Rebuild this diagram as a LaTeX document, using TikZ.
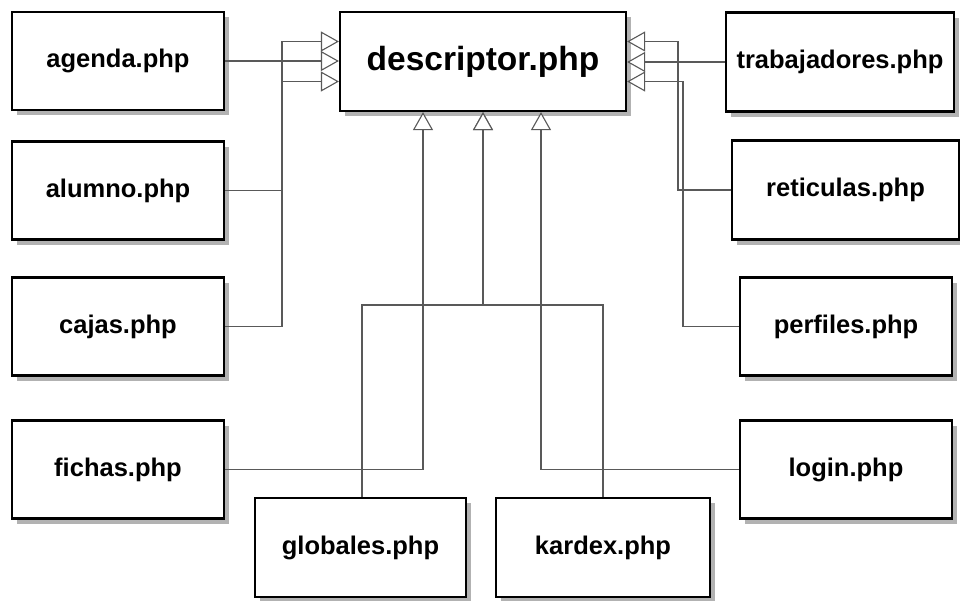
\documentclass[tikz,border=0pt]{standalone}
\usepackage{fontspec}
\setmainfont{Liberation Sans}
\usetikzlibrary{arrows.meta,shadows}
\begin{document}
\begin{tikzpicture}[x=1pt,y=-1pt,
  filebox/.style={draw=black,line width=2.2pt,fill=white,inner sep=0pt,
    minimum height=98pt,
    drop shadow={shadow xshift=5pt,shadow yshift=-5pt,fill=black!30,opacity=1},
    font=\fontsize{25.5}{30}\selectfont\bfseries},
  bigbox/.style={filebox,font=\fontsize{33.5}{38}\selectfont\bfseries},
  inherit/.style={draw=black!65,line width=1.1pt,
    -{Triangle[length=18pt,width=20pt,fill=white]}}
]
\useasboundingbox (0,0) rectangle (960,600);
\node[bigbox,minimum width=286pt,minimum height=99pt] (descriptor) at (483,61.5) {descriptor.php};
\node[filebox,minimum width=212pt] (agenda) at (118,61) {agenda.php};
\node[filebox,minimum width=212pt] (alumno) at (118,190.5) {alumno.php};
\node[filebox,minimum width=212pt] (cajas) at (118,326.5) {cajas.php};
\node[filebox,minimum width=212pt] (fichas) at (118,469.5) {fichas.php};
\node[filebox,minimum width=228pt,minimum height=99pt] (trabajadores) at (840,62) {trabajadores.php};
\node[filebox,minimum width=227pt,minimum height=99pt] (reticulas) at (845.5,190) {reticulas.php};
\node[filebox,minimum width=212pt] (perfiles) at (846,326.5) {perfiles.php};
\node[filebox,minimum width=212pt] (login) at (846,469.5) {login.php};
\node[filebox,minimum width=211pt,minimum height=99pt] (globales) at (360.5,547.5) {globales.php};
\node[filebox,minimum width=214pt,minimum height=99pt] (kardex) at (603,547.5) {kardex.php};

\coordinate (dl1) at ([yshift=20pt]descriptor.west);
\coordinate (dl3) at ([yshift=-20pt]descriptor.west);
\coordinate (dr1) at ([yshift=20pt]descriptor.east);
\coordinate (dr3) at ([yshift=-20pt]descriptor.east);
\coordinate (db1) at ([xshift=-60pt]descriptor.south);
\coordinate (db3) at ([xshift=58pt]descriptor.south);
\coordinate (lx) at (282,0);
\coordinate (rx1) at (678,0);
\coordinate (rx2) at (683,0);
\coordinate (by) at (0,305);

\draw[inherit] (agenda.east) -- (agenda.east -| descriptor.west);
\draw[inherit] (alumno.east) -- (alumno.east -| lx) |- (dl1);
\draw[inherit] (cajas.east) -- (cajas.east -| lx) |- (dl3);
\draw[inherit] (trabajadores.west) -- (trabajadores.west -| descriptor.east);
\draw[inherit] (reticulas.west) -- (reticulas.west -| rx1) |- (dr1);
\draw[inherit] (perfiles.west) -- (perfiles.west -| rx2) |- (dr3);
\draw[inherit] (fichas.east) -| (db1);
\draw[inherit] (login.west) -| (db3);
\draw[inherit] ([xshift=1.5pt]globales.north) -- ([xshift=1.5pt]globales.north |- by) -| (descriptor.south);
\draw[inherit] (kardex.north) -- (kardex.north |- by) -| (descriptor.south);
\end{tikzpicture}
\end{document}
